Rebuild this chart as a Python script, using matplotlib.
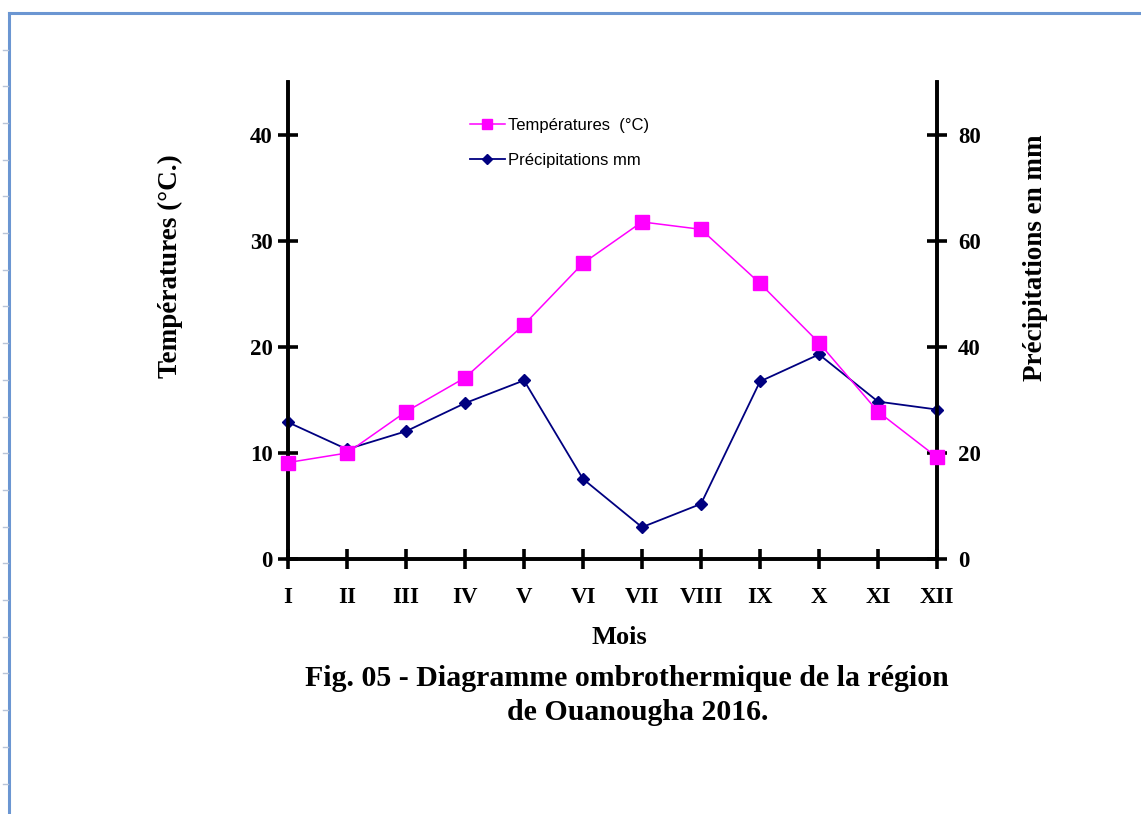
import matplotlib.pyplot as plt
from matplotlib.lines import Line2D

# monthly data
mois = ['I', 'II', 'III', 'IV', 'V', 'VI', 'VII', 'VIII', 'IX', 'X', 'XI', 'XII']
temperatures = [9.1, 10.0, 13.9, 17.1, 22.1, 27.9, 31.8, 31.1, 26.0, 20.4, 13.9, 9.6]
precipitations = [25.8, 20.7, 24.1, 29.4, 33.7, 15.1, 6.0, 10.4, 33.5, 38.6, 29.7, 28.2]

serif = 'Liberation Serif'
W, H = 1141, 814

fig = plt.figure(figsize=(W / 100, H / 100), dpi=100)
fig.patch.set_facecolor('white')

# page frame (document border + ruler marks)
frame_col = '#6b96d2'
fig.add_artist(Line2D([9 / W, 9 / W], [0, 1 - 13 / H], color=frame_col, lw=2.2, transform=fig.transFigure))
fig.add_artist(Line2D([9 / W, 1], [1 - 13 / H, 1 - 13 / H], color=frame_col, lw=2.2, transform=fig.transFigure))
y = 49.5
while y < H:
    fig.add_artist(Line2D([3 / W, 8 / W], [1 - y / H, 1 - y / H], color='#b8c4d8', lw=1.0,
                          transform=fig.transFigure))
    y += 36.7

ax = fig.add_axes([288 / W, 1 - 559 / H, (937 - 288) / W, (559 - 82) / H])
ax2 = ax.twinx()

x = list(range(1, len(mois) + 1))

l1, = ax.plot(x, temperatures, color='#ff00ff', lw=1.1, marker='s', markersize=9.5,
              label='Températures  (°C)', zorder=3, clip_on=False)
l2, = ax2.plot(x, precipitations, color='#000080', lw=1.3, marker='D', markersize=6.5,
               label='Précipitations mm', zorder=3, clip_on=False)
ax.set_zorder(ax2.get_zorder() + 1)
ax.patch.set_visible(False)

ax.set_xlim(1, 12)
ax.set_ylim(0, 45)
ax2.set_ylim(0, 90)
ax.set_yticks([0, 10, 20, 30, 40])
ax2.set_yticks([0, 20, 40, 60, 80])
ax.set_xticks(x)
ax.set_xticklabels(mois)

for a in (ax, ax2):
    for s in a.spines.values():
        s.set_linewidth(2.6)
    a.spines['top'].set_visible(False)
    a.tick_params(direction='inout', length=14, width=2.6)
    for lab in a.get_xticklabels() + a.get_yticklabels():
        lab.set_fontfamily(serif)
        lab.set_fontweight('bold')
        lab.set_fontsize(16.5)
ax.tick_params(axis='x', pad=13)
ax.tick_params(axis='y', pad=4)
ax2.tick_params(axis='y', pad=8)

# axis titles placed as in the reference (slightly above the axis centre)
fig.text(170 / W, 1 - 266 / H, 'Températures (°C.)', rotation=90, ha='center', va='center',
         fontfamily=serif, fontweight='bold', fontsize=19.5)
fig.text(1035 / W, 1 - 258 / H, 'Précipitations en mm', rotation=90, ha='center', va='center',
         fontfamily=serif, fontweight='bold', fontsize=19.5)
fig.text(619 / W, 1 - 638 / H, 'Mois', ha='center', va='center',
         fontfamily=serif, fontweight='bold', fontsize=19)

leg = ax.legend(handles=[l1, l2], loc='upper left', bbox_to_anchor=(0.28, 0.925), frameon=False,
                prop={'family': 'Liberation Sans', 'size': 12}, handlelength=2.1,
                handletextpad=0.2, labelspacing=1.2, borderpad=0, borderaxespad=0,
                markerscale=0.75)

fig.text(627 / W, 1 - 678 / H, 'Fig. 05 - Diagramme ombrothermique de la région',
         ha='center', va='center', fontfamily=serif, fontweight='bold', fontsize=21.5)
fig.text(638 / W, 1 - 713 / H, 'de Ouanougha 2016.',
         ha='center', va='center', fontfamily=serif, fontweight='bold', fontsize=21.5)

fig.savefig('out.png', dpi=100)
